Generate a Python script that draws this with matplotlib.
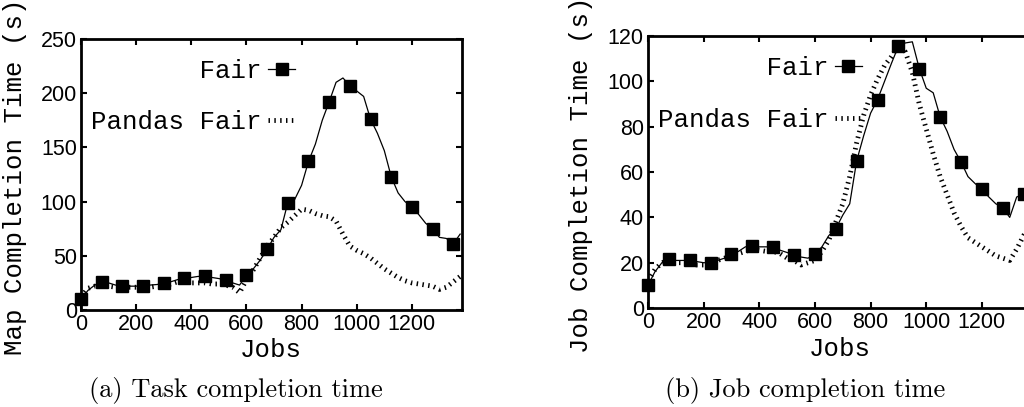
import numpy as np
import matplotlib
matplotlib.use("Agg")
import matplotlib.pyplot as plt

# jobs sampled every 25, markers every 75
jobs = np.arange(0, 1400, 25)

# (a) map/task completion time (s)
task_fair = [10, 18, 23, 26, 25, 23, 22.5, 22, 22, 22.5, 23, 23.5, 24.5, 26,
             28, 29.5, 30, 31, 31, 30, 29, 27.5, 25, 23, 32, 38, 46, 56,
             67, 74, 99, 102, 115, 137, 153, 175, 192, 210, 214, 207, 202, 197,
             176, 163, 147, 123, 108, 100, 95, 88, 80, 75, 67, 66, 61, 70]
task_pandas = [12, 20, 22, 22, 22, 21, 21, 21, 21, 21, 21, 22, 22, 24,
               26, 26, 25, 25, 25, 24, 24, 23, 21, 16, 28, 37, 48, 59,
               67, 76, 81, 87, 93, 92, 89, 87, 86, 82, 70, 59, 55, 52,
               48, 43, 38, 34, 30, 27, 25, 24, 23, 22, 19, 21, 26, 31]

# (b) job completion time (s)
job_fair = [10, 16, 20, 21.5, 21, 21, 21, 20.5, 20, 20, 21, 22, 23.7, 25,
            27, 27.3, 27, 27, 26.8, 25.5, 24.5, 23.4, 22.5, 22, 23.7, 27, 32, 35,
            41, 46, 65, 76, 86, 92, 100, 108, 115.6, 117, 117.5, 105.7, 97, 95,
            84.4, 78, 70, 64.5, 58, 55, 52.4, 49, 46, 44.3, 40, 49, 50.3, 53]
job_pandas = [12, 17, 20, 21, 20, 20, 20, 19, 19, 20, 21, 22, 23, 24,
              25, 26, 25.5, 25, 25, 24, 22, 21, 19, 20, 21, 25, 30, 38,
              46, 58, 73, 85, 94, 101, 107, 111, 116, 113, 104, 90, 79, 68,
              58, 50, 42, 36, 31, 29, 27, 25, 23, 22, 21, 26, 32, 37]

series_labels = ["Fair".rjust(11), "Pandas Fair"]
captions = ["(a) Task completion time", "(b) Job completion time"]
ylabels = ["Map Completion Time (s)", "Job Completion Time (s)"]

MONO = "Liberation Mono"
SANS = "Liberation Sans"


def draw_panel(ax, fair, pandas, ymax, ystep, ylabel, leg_anchor, spacing):
    l1, = ax.plot(jobs, fair, color="black", lw=0.9, marker="s", ms=9,
                  markevery=3, clip_on=False)
    l2, = ax.plot(jobs, pandas, color="black", lw=3.5, ls=(0, (0.3, 0.9)),
                  dash_capstyle="butt")
    ax.set_xlim(0, 1380)
    ax.set_ylim(0, ymax)
    ax.set_xticks(np.arange(0, 1201, 200))
    ax.set_yticks(np.arange(0, ymax + 1, ystep))
    ax.tick_params(direction="in", top=True, right=True, length=4, width=1.5,
                   labelsize=15.5, pad=3)
    for lab in ax.get_xticklabels() + ax.get_yticklabels():
        lab.set_fontfamily(SANS)
    for sp in ax.spines.values():
        sp.set_linewidth(2)
    ax.set_xlabel("Jobs", fontsize=18.5, family=MONO)
    ax.set_ylabel(ylabel, fontsize=18.5, family=MONO)
    ax.xaxis.set_label_coords(0.5, -0.105)
    ax.yaxis.set_label_coords(-0.142, 0.49)
    ax.legend([l1, l2], series_labels, loc="upper right",
              bbox_to_anchor=leg_anchor, frameon=False, markerfirst=False,
              prop={"family": MONO, "size": 18.5}, handlelength=1.05,
              handletextpad=0.25, labelspacing=spacing, borderpad=0,
              borderaxespad=0)


def main():
    fig = plt.figure(figsize=(10.24, 4.07), dpi=100)
    ax1 = fig.add_axes([0.0791, 0.2383, 0.3716, 0.666])
    ax2 = fig.add_axes([0.6328, 0.2432, 0.375, 0.668])

    draw_panel(ax1, task_fair, task_pandas, 250, 50, ylabels[0],
               (0.5624, 0.925), 1.05)
    draw_panel(ax2, job_fair, job_pandas, 120, 20, ylabels[1],
               (0.557, 0.927), 1.1)

    fig.text(236 / 1024, 1 - 390 / 407, captions[0], ha="center", va="center",
             fontsize=19, family=["cmr10", "DejaVu Serif"])
    fig.text(805 / 1024, 1 - 390 / 407, captions[1], ha="center", va="center",
             fontsize=19, family=["cmr10", "DejaVu Serif"])

    fig.savefig("out.png", dpi=100)


if __name__ == "__main__":
    main()
